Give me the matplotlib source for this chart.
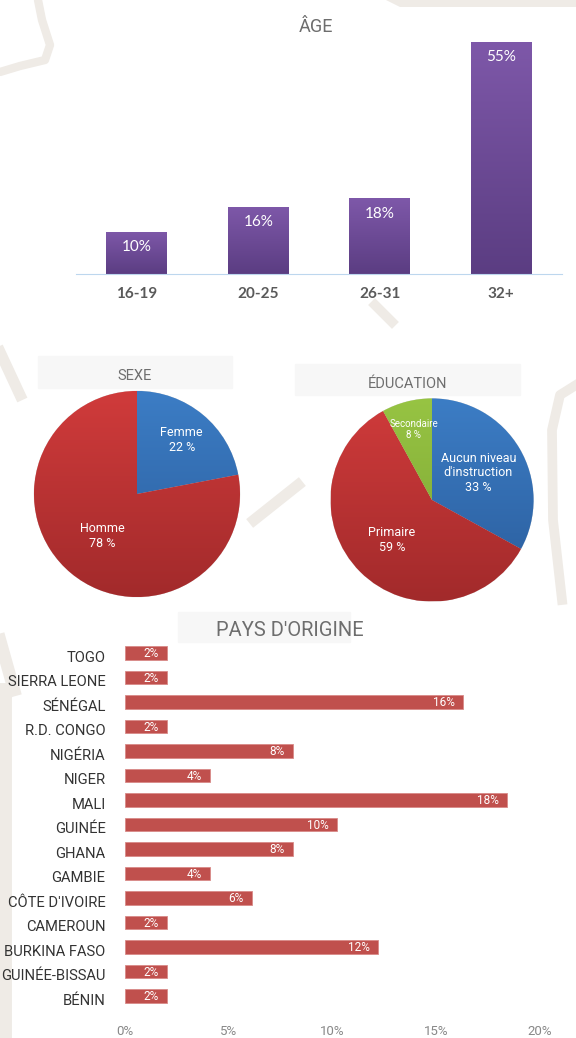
import numpy as np
import matplotlib.pyplot as plt
from matplotlib import font_manager
from matplotlib.colors import LinearSegmentedColormap
from matplotlib.patches import Rectangle

# ---- data -------------------------------------------------------------------
age_groups = ["16-19", "20-25", "26-31", "32+"]
age_pct = [10, 16, 18, 55]

sexe_labels = ["Femme", "Homme"]
sexe_pct = [22, 78]

edu_labels = ["Aucun niveau\nd'instruction", "Primaire", "Secondaire"]
edu_pct = [33, 59, 8]

pays = ["TOGO", "SIERRA LEONE", "SÉNÉGAL", "R.D. CONGO", "NIGÉRIA", "NIGER",
        "MALI", "GUINÉE", "GHANA", "GAMBIE", "CÔTE D'IVOIRE", "CAMEROUN",
        "BURKINA FASO", "GUINÉE-BISSAU", "BÉNIN"]
pays_pct = [2.0, 2.0, 16.3, 2.0, 8.1, 4.1, 18.4, 10.2, 8.1, 4.1, 6.1, 2.0,
            12.2, 2.0, 2.0]
pays_ticks = [0, 5, 10, 15, 20]

# ---- fonts ------------------------------------------------------------------
installed = {f.name for f in font_manager.fontManager.ttflist}
narrow = "Liberation Sans Narrow" if "Liberation Sans Narrow" in installed else "Roboto"
calib = "Lato" if "Lato" in installed else "DejaVu Sans"
GRAY = "#6e6e6e"
BEIGE = "#efebe6"


def gradient_fill(ax, patch, c_top, c_bot, extent):
    cmap = LinearSegmentedColormap.from_list("g", [c_bot, c_top])
    grad = np.linspace(0, 1, 256).reshape(-1, 1)
    im = ax.imshow(grad, cmap=cmap, origin="lower", extent=extent,
                   aspect="auto", zorder=patch.get_zorder() + 0.1)
    im.set_clip_path(patch)


fig = plt.figure(figsize=(5.76, 10.38), dpi=100)
W, H = 576.0, 1038.0


def fx(x):
    return x / W


def fy(y):
    return 1 - y / H


# background decoration (light beige strokes)
deco = fig.add_axes([0, 0, 1, 1], zorder=-5)
deco.set_xlim(0, W)
deco.set_ylim(H, 0)
deco.axis("off")
deco.plot([38, 42, 50, 45, 20, 0], [0, 20, 45, 60, 66, 72], color=BEIGE, lw=6, solid_capstyle="round")
deco.fill([386, 576, 576, 400], [0, 0, 7, 7], color=BEIGE, lw=0)
deco.plot([375, 392], [305, 322], color=BEIGE, lw=7)
deco.plot([0, 20], [352, 395], color=BEIGE, lw=8)
deco.plot([254, 298], [520, 485], color=BEIGE, lw=8)
deco.plot([576, 560, 552, 553, 562], [385, 395, 430, 520, 600], color=BEIGE, lw=7)
deco.plot([5, 5], [690, 1038], color=BEIGE, lw=10)
deco.plot([0, 14], [640, 690], color=BEIGE, lw=9)

# ---- ÂGE --------------------------------------------------------------------
ax1 = fig.add_axes([fx(76), fy(274), fx(562 - 76), (274 - 42) / H])
x = np.arange(len(age_groups))
bars = ax1.bar(x, age_pct, width=0.5, color="#6a4a93", zorder=2)
for b, v in zip(bars, age_pct):
    gradient_fill(ax1, b, "#7e58a9", "#5b3d82",
                  (b.get_x(), b.get_x() + b.get_width(), 0, v))
    ax1.text(b.get_x() + b.get_width() / 2, v - 2.0, f"{v}%", ha="center", va="top",
             color="white", fontsize=11, family=calib, zorder=5)
ax1.set_xlim(-0.5, 3.5)
ax1.set_ylim(0, 55)
ax1.set_xticks(x)
ax1.set_xticklabels(age_groups, fontsize=11, color="#5a5a5a", family=calib, fontweight="bold")
ax1.tick_params(axis="x", length=0, pad=9)
ax1.set_yticks([])
for s in ["top", "right", "left"]:
    ax1.spines[s].set_visible(False)
ax1.spines["bottom"].set_color("#bdd7ee")
ax1.patch.set_alpha(0)
fig.text(fx(316), fy(27), "ÂGE", ha="center", va="center", fontsize=13, color=GRAY, family=narrow)

# ---- pies -------------------------------------------------------------------
def draw_pie(cx, cy, r, values, labels, colors, dists, sizes, title, title_box):
    size = 230.0
    ax = fig.add_axes([fx(cx - size / 2), fy(cy + size / 2), size / W, size / H])
    lim = size / 2 / r
    wedges, _ = ax.pie(values, startangle=90, counterclock=False,
                       colors=[c[0] for c in colors],
                       wedgeprops=dict(linewidth=0.4, edgecolor="#dddddd"))
    for w, c in zip(wedges, colors):
        gradient_fill(ax, w, c[0], c[1], (-1, 1, -1, 1))
    for w, lab, v, d, s in zip(wedges, labels, values, dists, sizes):
        ang = np.deg2rad((w.theta1 + w.theta2) / 2)
        ax.text(d * np.cos(ang), d * np.sin(ang), f"{lab}\n{v} %", ha="center", va="center",
                color="white", fontsize=s, family=narrow, linespacing=1.15, zorder=10)
    ax.set_xlim(-lim, lim)
    ax.set_ylim(-lim, lim)
    ax.set_aspect("equal")
    ax.axis("off")
    bx0, by0, bx1, by1 = title_box
    fig.patches.append(Rectangle((fx(bx0), fy(by1)), (bx1 - bx0) / W, (by1 - by0) / H,
                                 transform=fig.transFigure, color="#f7f7f7", zorder=-4))
    fig.text(fx((bx0 + bx1) / 2), fy((by0 + by1) / 2 + 4), title, ha="center", va="center",
             fontsize=10.5, color=GRAY, family=narrow)


RED = ("#d03b3b", "#a22a2b")
BLUE = ("#3c7dc5", "#2a5c9b")
GREEN = ("#97c443", "#7aa232")

draw_pie(137, 494, 103, sexe_pct, sexe_labels, [BLUE, RED], [0.68, 0.53], [9, 9],
         "SEXE", (38, 356, 232, 388))
draw_pie(432, 500, 101.5, edu_pct, edu_labels, [BLUE, RED, GREEN], [0.53, 0.56, 0.72],
         [9, 9, 7], "ÉDUCATION", (295, 364, 520, 395))

# ---- PAYS D'ORIGINE ---------------------------------------------------------
ax3 = fig.add_axes([fx(125), fy(1010.7), fx(540 - 125), (1010.7 - 639.5) / H])
y = np.arange(len(pays))
hb = ax3.barh(y, pays_pct, height=0.55, color="#c0504d", edgecolor="#d88a88", linewidth=0.6)
for b, v in zip(hb, pays_pct):
    ax3.text(v - 0.4, b.get_y() + b.get_height() / 2 + 0.04, f"{round(v)}%", ha="right",
             va="center", color="white", fontsize=8.5, family=narrow)
# country names sit a few pixels below the bar centres, as in the original
for i, name in zip(y, pays):
    ax3.annotate(name, xy=(0, i), xycoords=("axes fraction", "data"),
                 xytext=(-14, -3.5), textcoords="offset points", ha="right", va="center",
                 fontsize=10.6, color="#333333", family=narrow, annotation_clip=False)
ax3.set_xlim(0, 20)
ax3.set_ylim(14.6, -0.55)
ax3.set_yticks([])
ax3.set_xticks(pays_ticks)
ax3.set_xticklabels([f"{t}%" for t in pays_ticks], fontsize=9.5, color="#888888", family=narrow)
ax3.tick_params(axis="x", length=0, pad=10)
for s in ax3.spines.values():
    s.set_visible(False)
ax3.patch.set_alpha(0)
fig.patches.append(Rectangle((fx(178), fy(642)), 172 / W, 30 / H, transform=fig.transFigure,
                             color="#f7f7f7", zorder=-4))
fig.text(fx(290), fy(631), "PAYS D'ORIGINE", ha="center", va="center", fontsize=14.5,
         color=GRAY, family=narrow)

fig.savefig("out.png", dpi=100)
